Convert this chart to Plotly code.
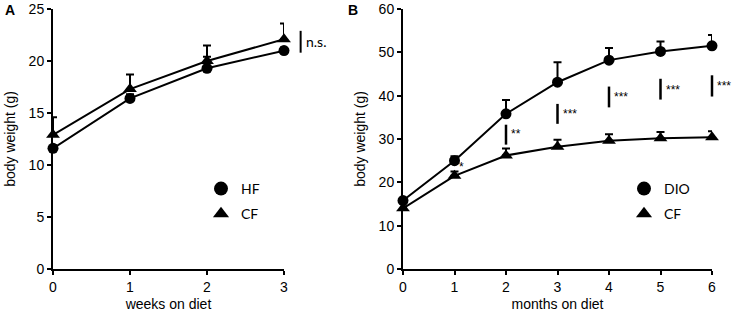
import plotly.graph_objects as go

# Panel A data
weeks = [0, 1, 2, 3]
hf_a = [11.6, 16.4, 19.3, 21.0]
hf_a_err = [0.3, 0.4, 1.1, 0.3]
cf_a = [12.9, 17.3, 20.0, 22.1]
cf_a_err = [1.7, 1.4, 1.5, 1.5]

# Panel B data
months = [0, 1, 2, 3, 4, 5, 6]
dio_b = [15.8, 25.0, 35.8, 43.1, 48.2, 50.2, 51.5]
dio_b_err = [0.5, 1.0, 3.2, 4.6, 2.8, 2.3, 2.5]
cf_b = [14.0, 21.5, 26.2, 28.2, 29.6, 30.2, 30.4]
cf_b_err = [0.4, 1.0, 1.6, 1.6, 1.5, 1.4, 1.4]

# significance marks panel B: x, y bottom, y top, label
sig_x = [1, 2, 3, 4, 5, 6]
sig_lo = [None, 28.7, 33.5, 37.3, 39.1, 39.8]
sig_hi = [None, 33.3, 38.1, 42.1, 43.9, 44.7]
sig_lbl = ["*", "**", "***", "***", "***", "***"]
sig_lbl_y = [23.5, 31.2, 35.7, 39.6, 41.4, 42.2]

FONT = "Liberation Sans, Arial, sans-serif"
LFONT = "Lato, Open Sans, sans-serif"
BLACK = "#000000"

fig = go.Figure()

def add_series(x, y, err, symbol, size, xa, ya, name):
    fig.add_trace(go.Scatter(
        x=x, y=y, mode="lines+markers", xaxis=xa, yaxis=ya,
        line=dict(color=BLACK, width=2),
        marker=dict(symbol=symbol, size=size, color=BLACK),
        error_y=dict(type="data", array=err, arrayminus=[0] * len(err),
                     symmetric=False, color=BLACK, thickness=2, width=4),
        cliponaxis=False, showlegend=False, name=name))

add_series(weeks, hf_a, hf_a_err, "circle", 11, "x", "y", "HF")
add_series(weeks, cf_a, cf_a_err, "triangle-up", 12, "x", "y", "CF")
add_series(months, dio_b, dio_b_err, "circle", 11, "x2", "y2", "DIO")
add_series(months, cf_b, cf_b_err, "triangle-up", 12, "x2", "y2", "CF")

# legend dummy entries
for i, (nm, sym, lg) in enumerate([("HF", "circle", "legend"), ("CF", "triangle-up", "legend"),
                                    ("DIO", "circle", "legend2"), ("CF", "triangle-up", "legend2")]):
    fig.add_trace(go.Scatter(x=[None], y=[None], mode="markers", name=nm,
                             marker=dict(symbol=sym, size=14, color=BLACK),
                             xaxis="x" if lg == "legend" else "x2",
                             yaxis="y" if lg == "legend" else "y2",
                             legend=lg, legendgroup="g%d" % i, showlegend=True))

shapes = []
annotations = []
# n.s. in panel A
shapes.append(dict(type="line", xref="x domain", yref="y", x0=1.072, x1=1.072,
                   y0=20.8, y1=22.9, line=dict(color=BLACK, width=2)))
annotations.append(dict(xref="x domain", yref="y", x=1.085, y=21.9, text="n.s.",
                        showarrow=False, xanchor="left",
                        font=dict(family=LFONT, size=14, color=BLACK)))
for xv, lo, hi, lbl, ly in zip(sig_x, sig_lo, sig_hi, sig_lbl, sig_lbl_y):
    if lo is not None:
        shapes.append(dict(type="line", xref="x2 domain", yref="y2",
                           x0=xv / 6, x1=xv / 6, y0=lo, y1=hi,
                           line=dict(color=BLACK, width=2.5)))
    annotations.append(dict(xref="x2", yref="y2", x=xv, y=ly, text=lbl,
                            showarrow=False, xanchor="left", xshift=3,
                            font=dict(family=FONT, size=12, color=BLACK)))

annotations.append(dict(xref="paper", yref="paper", x=10 / 737, y=1 - 10 / 318,
                        text="<b>A</b>", showarrow=False, xanchor="center",
                        yanchor="middle", font=dict(family=FONT, size=14, color=BLACK)))
annotations.append(dict(xref="paper", yref="paper", x=353 / 737, y=1 - 10 / 318,
                        text="<b>B</b>", showarrow=False, xanchor="center",
                        yanchor="middle", font=dict(family=FONT, size=14, color=BLACK)))

ax_common = dict(showline=True, linecolor=BLACK, linewidth=2, ticks="outside",
                 ticklen=4, tickwidth=2, tickcolor=BLACK, showgrid=False,
                 zeroline=False, automargin=False,
                 tickfont=dict(family=FONT, size=14, color=BLACK),
                 title_font=dict(family=FONT, size=14, color=BLACK))

y0 = 1 - 269 / 318
y1 = 1 - 9 / 318
fig.update_layout(
    width=737, height=318, margin=dict(l=0, r=0, t=0, b=0),
    paper_bgcolor="white", plot_bgcolor="white",
    xaxis=dict(domain=[53 / 737, 284 / 737], range=[0, 3], dtick=1,
               title=dict(text="weeks on diet", standoff=5), anchor="y", **ax_common),
    yaxis=dict(domain=[y0, y1], range=[0, 25], dtick=5,
               title=dict(text="body weight (g)", standoff=10), anchor="x", **ax_common),
    xaxis2=dict(domain=[403 / 737, 712 / 737], range=[0, 6], dtick=1,
                title=dict(text="months on diet", standoff=5), anchor="y2", **ax_common),
    yaxis2=dict(domain=[y0, y1], range=[0, 60], dtick=10,
                title=dict(text="body weight (g)", standoff=10), anchor="x2", **ax_common),
    legend=dict(x=201 / 737, y=1 - 173 / 318, xanchor="left", yanchor="top",
                bgcolor="rgba(0,0,0,0)", font=dict(family=LFONT, size=14, color=BLACK),
                itemwidth=30, tracegroupgap=4),
    legend2=dict(x=624 / 737, y=1 - 173 / 318, xanchor="left", yanchor="top",
                 bgcolor="rgba(0,0,0,0)", font=dict(family=LFONT, size=14, color=BLACK),
                 itemwidth=30, tracegroupgap=4),
    shapes=shapes, annotations=annotations,
)

fig.write_html("out.html", config={"displayModeBar": False},
               post_script="document.body.style.margin='0';document.body.style.padding='0';")
